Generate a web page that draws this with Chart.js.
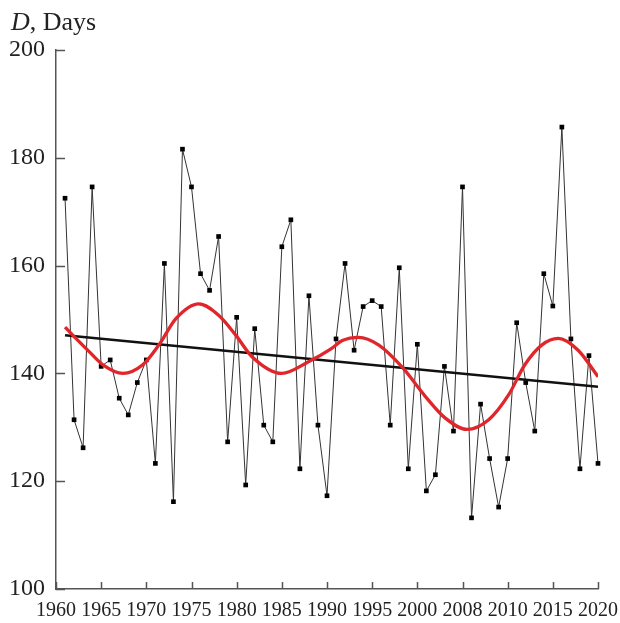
<!DOCTYPE html>
<html>
<head>
<meta charset="utf-8">
<script src="https://cdn.jsdelivr.net/npm/chart.js@4.4.1/dist/chart.umd.min.js"></script>
<style>
  html, body { margin: 0; padding: 0; background: #fff; }
  #wrap { position: relative; width: 620px; height: 623px; }
  #ytitle { position: absolute; left: 11px; top: 9px; font-family: "Liberation Serif", "DejaVu Serif", serif;
            font-size: 26px; line-height: 1; color: #222; white-space: nowrap; }
</style>
</head>
<body>
<div id="wrap">
  <canvas id="c" width="620" height="623"></canvas>
  <div id="ytitle"><i>D</i>, Days</div>
</div>
<script>
// ---- Data ----
const years = [1961,1962,1963,1964,1965,1966,1967,1968,1969,1970,
               1971,1972,1973,1974,1975,1976,1977,1978,1979,1980,
               1981,1982,1983,1984,1985,1986,1987,1988,1989,1990,
               1991,1992,1993,1994,1995,1996,1997,1998,1999,2000,
               2001,2002,2003,2004,2005,2006,2007,2008,2009,2010,
               2011,2012,2013,2014,2015,2016,2017,2018,2019,2020];
const days = [172.5,131.4,126.2,174.6,141.3,142.5,135.4,132.3,138.3,142.5,
              123.3,160.4,116.2,181.6,174.6,158.5,155.4,165.4,127.3,150.4,
              119.3,148.3,130.4,127.3,163.5,168.5,122.3,154.4,130.4,117.3,
              146.4,160.4,144.3,152.4,153.5,152.4,130.4,159.6,122.3,145.4,
              118.2,121.2,141.3,129.3,174.6,113.2,134.3,124.2,115.2,124.2,
              149.4,138.3,129.3,158.5,152.5,185.7,146.4,122.3,143.3,123.3];

// Smooth (red) curve, sampled along the drawn curve
const curveYears  = [1961.0,1962.2,1963.7,1965.2,1967.4,1969.6,1971.4,1973.3,1975.8,1978.0,
                     1979.9,1981.7,1985.0,1988.0,1990.4,1991.7,1993.5,1995.7,1998.3,2000.9,
                     2003.1,2005.5,2007.9,2010.1,2011.9,2013.8,2015.6,2017.8,2020.0];
const curveValues = [148.6,146.5,144.0,141.6,140.0,141.6,145.3,150.2,152.9,150.8,
                     147.1,143.1,140.0,142.2,144.5,146.1,146.7,145.3,141.2,135.7,
                     131.7,129.6,131.4,136.0,141.6,145.3,146.5,144.3,139.4];

// Linear trend (black)
const trendYears  = [1961, 2020];
const trendValues = [147.1, 137.5];

// Axis tick labels (as printed in the original)
const xTickLabels = ['1960','1965','1970','1975','1980','1985','1990','1995','2000','2008','2010','2015','2020'];
const yTickValues = [100,120,140,160,180,200];

const toXY = (xs, ys) => xs.map((x, i) => ({x: x, y: ys[i]}));

const AXIS_COLOR = '#555';
const FONT = '"Liberation Serif", "DejaVu Serif", serif';

const inwardTicks = {
  id: 'inwardTicks',
  afterDraw(chart) {
    const ctx = chart.ctx;
    const xs = chart.scales.x, ys = chart.scales.y;
    const area = chart.chartArea;
    ctx.save();
    ctx.strokeStyle = AXIS_COLOR;
    ctx.lineWidth = 1.5;
    ctx.beginPath();
    xs.ticks.forEach(t => {
      const px = Math.round(xs.getPixelForValue(t.value)) + 0.5;
      ctx.moveTo(px, area.bottom);
      ctx.lineTo(px, area.bottom - 7);
    });
    ys.ticks.forEach(t => {
      const py = Math.round(ys.getPixelForValue(t.value)) + 0.5;
      ctx.moveTo(area.left, py);
      ctx.lineTo(area.left + 9, py);
    });
    ctx.stroke();
    ctx.restore();
  }
};

new Chart(document.getElementById('c'), {
  type: 'line',
  data: {
    datasets: [
      {
        label: 'Red fit',
        data: toXY(curveYears, curveValues),
        borderColor: '#e0262b',
        borderWidth: 3.3,
        pointRadius: 0,
        cubicInterpolationMode: 'monotone',
        fill: false,
        order: 1
      },
      {
        label: 'Trend',
        data: toXY(trendYears, trendValues),
        borderColor: '#111',
        borderWidth: 2.5,
        pointRadius: 0,
        fill: false,
        order: 2
      },
      {
        label: 'D',
        data: toXY(years, days),
        borderColor: '#333',
        borderWidth: 1,
        pointStyle: 'rect',
        pointRadius: 3.3,
        pointBorderWidth: 0,
        pointBackgroundColor: '#000',
        tension: 0,
        fill: false,
        clip: false,
        order: 3
      }
    ]
  },
  options: {
    responsive: false,
    devicePixelRatio: 1,
    animation: false,
    layout: { padding: { left: 0, top: 50, right: 22, bottom: 0 } },
    plugins: { legend: { display: false }, tooltip: { enabled: false }, title: { display: false } },
    scales: {
      x: {
        type: 'linear',
        min: 1960, max: 2020,
        grid: { display: false, drawTicks: false },
        border: { display: true, color: AXIS_COLOR, width: 1.5 },
        afterBuildTicks: s => { s.ticks = xTickLabels.map((_, i) => ({ value: 1960 + 5 * i })); },
        ticks: {
          autoSkip: false, maxRotation: 0, minRotation: 0, padding: 10,
          color: '#222', font: { family: FONT, size: 20 },
          callback: (v, i) => xTickLabels[i]
        },
        afterFit: s => { s.height = 34; s.paddingLeft = 0; s.paddingRight = 0; }
      },
      y: {
        min: 100, max: 200,
        grid: { display: false, drawTicks: false },
        border: { display: true, color: AXIS_COLOR, width: 1.5 },
        afterBuildTicks: s => { s.ticks = yTickValues.map(v => ({ value: v })); },
        ticks: {
          padding: 11, color: '#222', font: { family: FONT, size: 24 },
          callback: v => String(v)
        },
        afterFit: s => { s.width = 56; s.paddingTop = 0; s.paddingBottom = 0; }
      }
    }
  },
  plugins: [inwardTicks]
});
</script>
</body>
</html>
